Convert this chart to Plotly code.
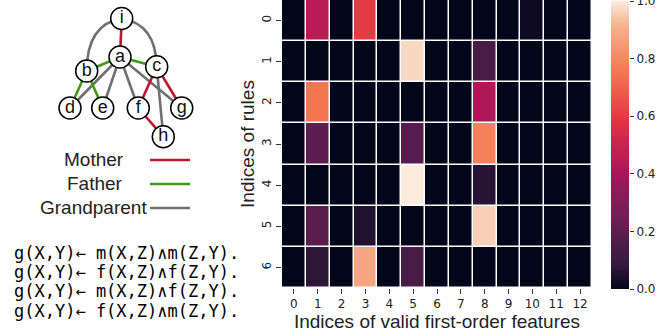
import plotly.graph_objects as go

# ---------------- data ----------------
feature_idx = list(range(13))
rule_idx = list(range(7))
rule_0 = [0.0, 0.45, 0.0, 0.60, 0.0, 0.0, 0.0, 0.0, 0.0, 0.0, 0.02, 0.0, 0.0]
rule_1 = [0.0, 0.0, 0.0, 0.0, 0.0, 0.97, 0.0, 0.0, 0.14, 0.0, 0.0, 0.0, 0.0]
rule_2 = [0.0, 0.75, 0.0, 0.0, 0.0, 0.0, 0.0, 0.0, 0.42, 0.0, 0.0, 0.0, 0.0]
rule_3 = [0.0, 0.20, 0.0, 0.0, 0.0, 0.18, 0.0, 0.0, 0.78, 0.0, 0.0, 0.0, 0.0]
rule_4 = [0.0, 0.0, 0.0, 0.0, 0.0, 1.0, 0.0, 0.0, 0.06, 0.0, 0.0, 0.0, 0.0]
rule_5 = [0.0, 0.19, 0.0, 0.05, 0.0, 0.0, 0.0, 0.0, 0.96, 0.0, 0.0, 0.0, 0.0]
rule_6 = [0.0, 0.07, 0.0, 0.88, 0.0, 0.14, 0.0, 0.0, 0.0, 0.0, 0.0, 0.0, 0.0]
weights = [rule_0, rule_1, rule_2, rule_3, rule_4, rule_5, rule_6]
colorbar_ticks = [0.0, 0.2, 0.4, 0.6, 0.8, 1.0]

formulas = [
    "g(X,Y)← m(X,Z)∧m(Z,Y).",
    "g(X,Y)← f(X,Z)∧f(Z,Y).",
    "g(X,Y)← m(X,Z)∧f(Z,Y).",
    "g(X,Y)← f(X,Z)∧m(Z,Y).",
]

# family tree diagram (illustration layout, in pixel units)
node_names = ["i", "a", "b", "c", "d", "e", "f", "g", "h"]
node_pos = {"i": (121.7, 18.5), "a": (120, 57), "b": (86.7, 71), "c": (156.7, 66.7),
            "d": (70, 108), "e": (102.7, 108), "f": (138.3, 108), "g": (181.7, 108),
            "h": (163.3, 136.7)}
mother_edges = [("i", "a"), ("c", "f"), ("c", "g"), ("f", "h")]
father_edges = [("a", "b"), ("a", "c"), ("b", "d"), ("b", "e")]
grand_edges = [("a", "d"), ("a", "e"), ("a", "f"), ("a", "g"), ("c", "h")]
grand_arcs = [("i", "b", (87, 24)), ("i", "c", (156, 24))]
legend_labels = ["Mother", "Father", "Grandparent"]

RED, GREEN, GRAY = "#c0142e", "#3f9c10", "#707070"
legend_colors = [RED, GREEN, GRAY]

rocket = [
    [0.0, "#03051a"], [0.083, "#35193e"], [0.25, "#701f57"], [0.417, "#ad1759"],
    [0.583, "#e13342"], [0.75, "#f37651"], [0.917, "#f6b48f"], [1.0, "#faebdd"],
]

fig = go.Figure()

# ---------------- heatmap ----------------
fig.add_trace(go.Heatmap(
    z=weights, x=feature_idx, y=rule_idx, colorscale=rocket, zmin=0, zmax=1,
    xgap=1.5, ygap=1.5, hoverinfo="skip", showscale=False, xaxis="x", yaxis="y",
))

# colour bar drawn as a thin gradient strip on its own axis
bar_levels = [k / 300 for k in range(301)]
fig.add_trace(go.Heatmap(
    z=[[v] for v in bar_levels], y=bar_levels, x=[0], colorscale=rocket, zmin=0, zmax=1,
    showscale=False, hoverinfo="skip", xaxis="x3", yaxis="y3",
))

# ---------------- diagram ----------------
def add_edges(edges, color):
    for a, b in edges:
        (x0, y0), (x1, y1) = node_pos[a], node_pos[b]
        fig.add_trace(go.Scatter(x=[x0, x1], y=[y0, y1], mode="lines",
                                 line=dict(color=color, width=2.6),
                                 xaxis="x2", yaxis="y2", hoverinfo="skip", showlegend=False))

shapes = []
for a, b, (cx, cy) in grand_arcs:
    (x0, y0), (x1, y1) = node_pos[a], node_pos[b]
    shapes.append(dict(type="path", xref="x2", yref="y2", layer="below",
                       path=f"M {x0},{y0} Q {cx},{cy} {x1},{y1}",
                       line=dict(color=GRAY, width=2.6)))

add_edges(grand_edges, GRAY)
add_edges(mother_edges, RED)
add_edges(father_edges, GREEN)

fig.add_trace(go.Scatter(
    x=[node_pos[n][0] for n in node_names], y=[node_pos[n][1] for n in node_names],
    mode="markers+text", text=node_names, textposition="middle center",
    textfont=dict(family="Liberation Sans", size=18, color="#111"),
    marker=dict(size=22, color="white", line=dict(color="black", width=1.5)),
    xaxis="x2", yaxis="y2", hoverinfo="skip", showlegend=False, cliponaxis=False))

# legend of the diagram
annotations = []
legend_y = [159, 183, 207]
legend_text_right = [126, 125, 149]
for lab, col, ly, tx in zip(legend_labels, legend_colors, legend_y, legend_text_right):
    fig.add_trace(go.Scatter(x=[150, 190], y=[ly + 1, ly + 1], mode="lines",
                             line=dict(color=col, width=2.6), xaxis="x2", yaxis="y2",
                             hoverinfo="skip", showlegend=False))
    annotations.append(dict(x=tx, y=ly, xref="x2", yref="y2", text=lab, showarrow=False,
                            xanchor="right", yanchor="middle",
                            font=dict(family="Liberation Sans", size=19, color="#222")))

for k, f in enumerate(formulas):
    annotations.append(dict(x=12, y=253 + k * 19.2, xref="x2", yref="y2", text=f,
                            showarrow=False, xanchor="left", yanchor="middle",
                            font=dict(family="DejaVu Sans Mono", size=17, color="black")))

tick_font = dict(family="DejaVu Sans", size=12, color="#222")
fig.update_layout(
    width=670, height=335, margin=dict(l=0, r=0, t=0, b=0),
    paper_bgcolor="white", plot_bgcolor="rgba(0,0,0,0)",
    shapes=shapes, annotations=annotations, showlegend=False,
    xaxis=dict(domain=[282 / 670, 592 / 670], anchor="y", tickvals=feature_idx,
               ticks="outside", ticklen=5, tickcolor="#333", showgrid=False, zeroline=False,
               automargin=False, tickfont=tick_font,
               title=dict(text="Indices of valid first-order features", standoff=0,
                          font=dict(family="Liberation Sans", size=19, color="#222"))),
    yaxis=dict(domain=[1 - 288 / 335, 1.0], anchor="x", tickvals=rule_idx,
               autorange="reversed", ticks="outside", ticklen=5, tickcolor="#333",
               tickangle=-90, showgrid=False, zeroline=False, automargin=False,
               tickfont=tick_font,
               title=dict(text="Indices of rules", standoff=0,
                          font=dict(family="Liberation Sans", size=19, color="#222"))),
    xaxis2=dict(domain=[0, 0.4], range=[0, 268], anchor="y2", visible=False,
                automargin=False),
    yaxis2=dict(domain=[0, 1], range=[335, 0], anchor="x2", visible=False,
                automargin=False),
    xaxis3=dict(domain=[611 / 670, 629 / 670], range=[-0.5, 0.5], anchor="y3",
                visible=False, automargin=False),
    yaxis3=dict(domain=[1 - 289 / 335, 1.0], range=[0, 1.004], anchor="x3", side="right",
                tickvals=colorbar_ticks, ticktext=[f"{t:.1f}" for t in colorbar_ticks],
                ticks="outside", ticklen=4, tickcolor="#333", showgrid=False,
                zeroline=False, showline=False, automargin=False, tickfont=tick_font,
                ticklabeloverflow="allow"),
)

fig.write_html("out.html", config={"displayModeBar": False},
               post_script="document.body.style.margin='0px';")
